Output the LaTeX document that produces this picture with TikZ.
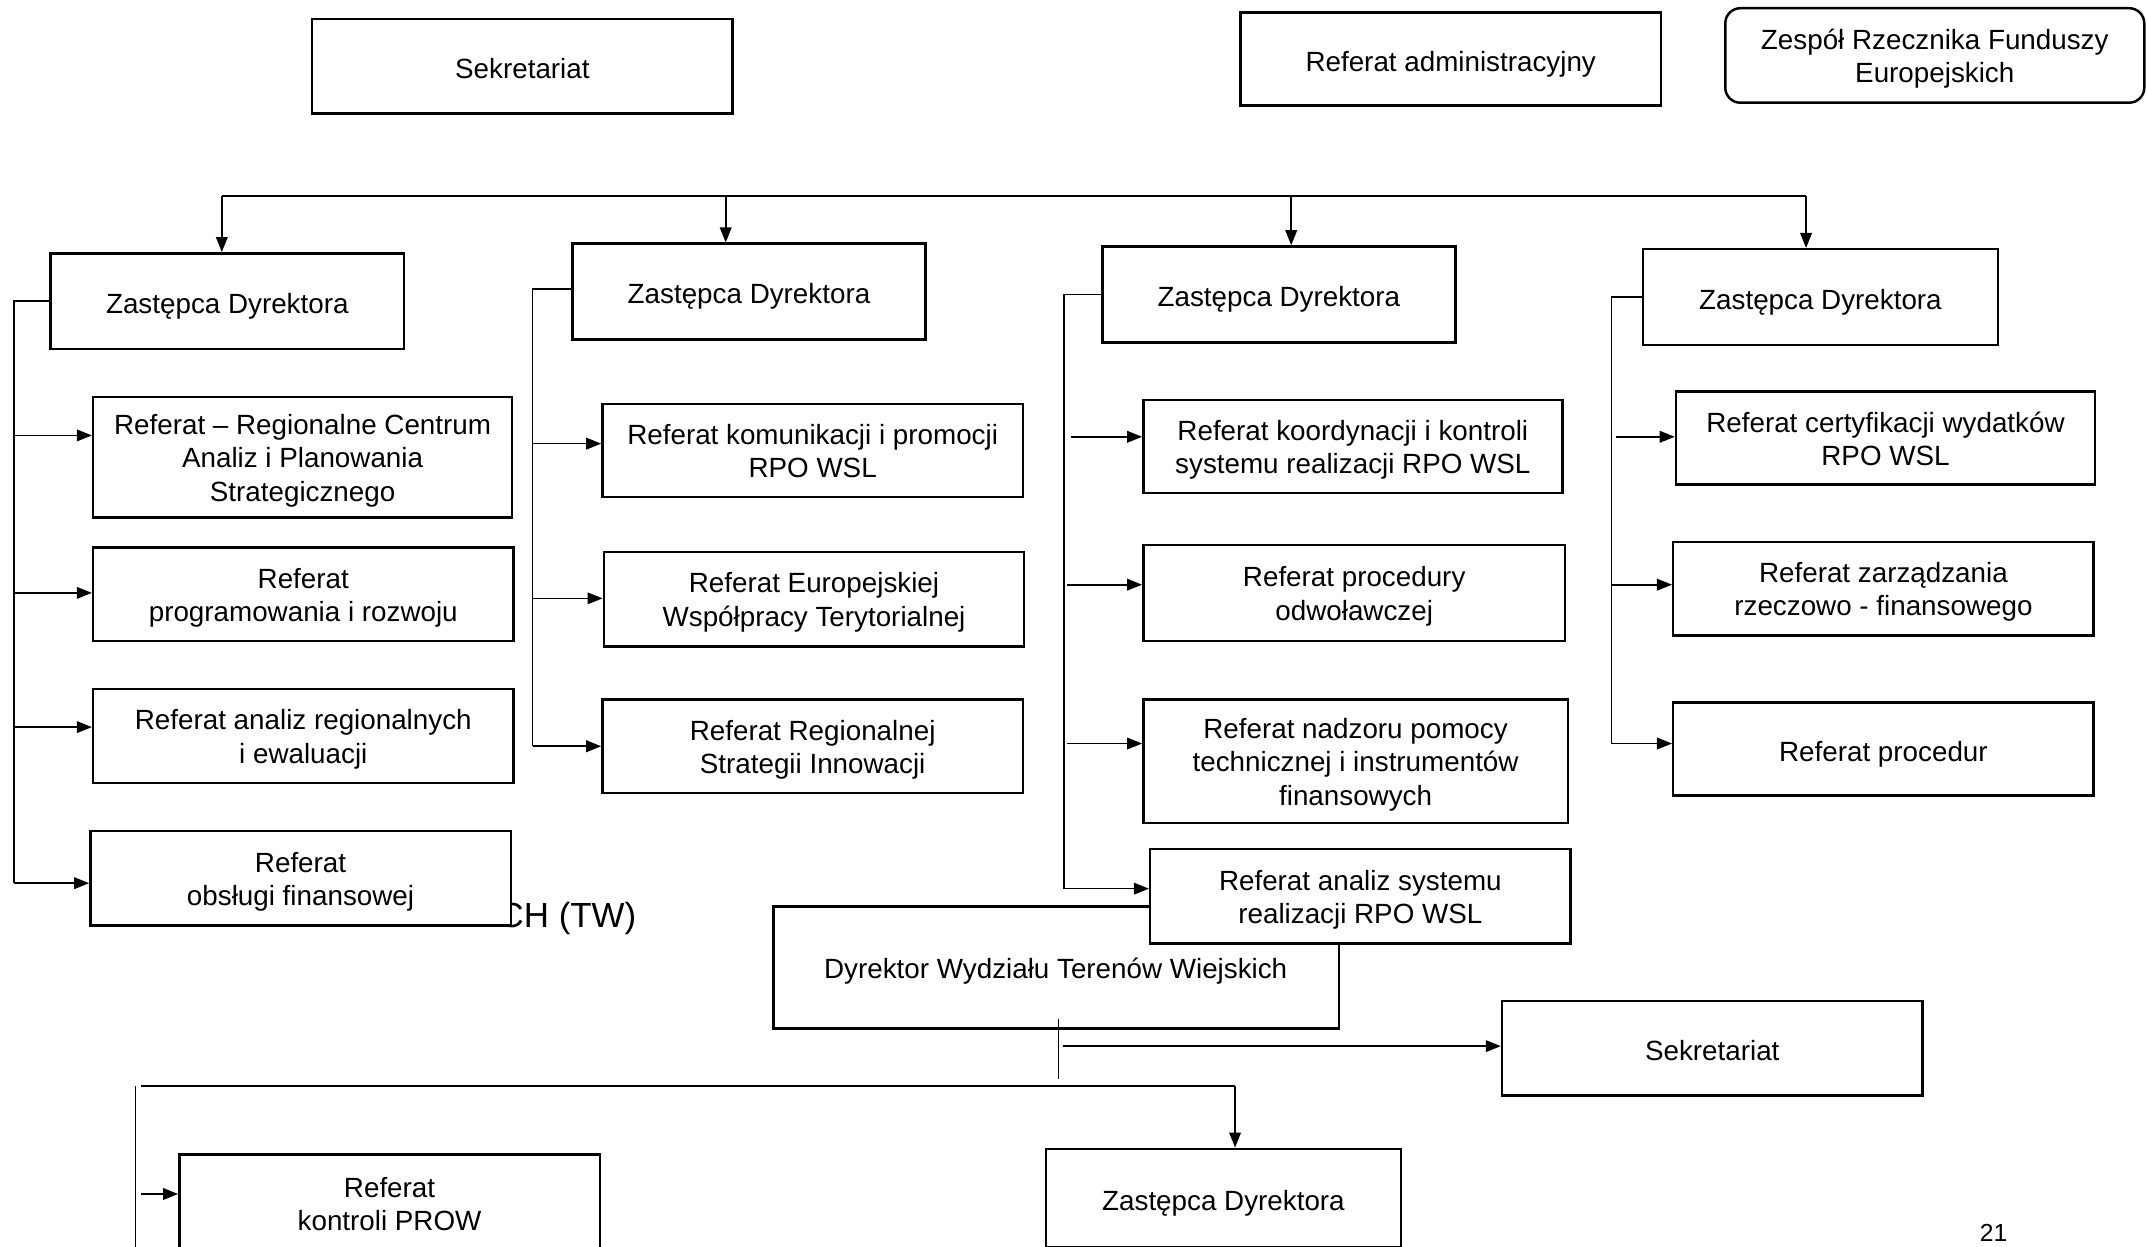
\documentclass[tikz,border=0pt]{standalone}
\usepackage{fontspec}
\setmainfont{Liberation Sans}
\usetikzlibrary{arrows.meta}
\tikzset{
  box/.style={draw, line width=1.8pt, fill=white, inner sep=0pt},
  txt/.style={align=center, inner sep=0pt, font=\fontsize{20.3}{24.3}\selectfont,
    execute at begin node={\strut}, execute at end node={\strut}},
  conn/.style={line width=1.2pt},
  arr/.style={line width=1.2pt, -{Triangle[length=11pt,width=8.5pt]}},
}
\newcommand{\bx}[6]{\node[box, minimum width=#4pt, minimum height=#5pt] (#1) at (#2,#3) {};
  \node[txt] (#1t) at ([yshift=-4pt]#1.center) {#6};}
\begin{document}
\begin{tikzpicture}[x=1pt,y=-1pt]
\useasboundingbox (0,0) rectangle (1568,910);
\clip (0,0) rectangle (1568,910);
\fill[white] (0,0) rectangle (1568,910);

% hidden title fragment
\node[anchor=base west, inner sep=0pt, font=\fontsize{25.5}{30}\selectfont] (tw) at (364,677) {CH (TW)};

% top row
\bx{sekA}{381.5}{48.5}{307}{69}{Sekretariat}
\bx{adm}{1059.5}{43}{307}{68}{Referat administracyjny}
\node[box, rounded corners=11pt, minimum width=306pt, minimum height=69pt] (zesp) at (1413,40.5) {};
\node[txt] (zespt) at ([yshift=-4pt]zesp.center) {Zespół Rzecznika Funduszy\\Europejskich};

% deputies
\bx{z1}{166}{220}{258}{70}{Zastępca Dyrektora}
\bx{z2}{547}{213}{258}{70}{Zastępca Dyrektora}
\bx{z3}{934}{215}{258}{70}{Zastępca Dyrektora}
\bx{z4}{1329.5}{217}{259}{70}{Zastępca Dyrektora}

% bottom director (behind others)
\node[box, minimum width=413pt, minimum height=89pt] (dyr) at (771.5,706.5) {};
\node[txt] (dyrt) at (771,710) {Dyrektor Wydziału Terenów Wiejskich};

% column 1
\bx{r1a}{221}{334}{306}{88}{Referat – Regionalne Centrum\\Analiz i Planowania\\Strategicznego}
\bx{r1b}{221.5}{434}{307}{68}{Referat\\programowania i rozwoju}
\bx{r1c}{221.5}{537.5}{307}{69}{Referat analiz regionalnych\\i ewaluacji}
\bx{r1d}{219.5}{641.5}{307}{69}{Referat\\obsługi finansowej}

% column 2
\bx{r2a}{593.5}{329}{307}{68}{Referat komunikacji i promocji\\RPO WSL}
\bx{r2b}{594.5}{437.5}{307}{69}{Referat Europejskiej\\Współpracy Terytorialnej}
\bx{r2c}{593.5}{545}{307}{68}{Referat Regionalnej\\Strategii Innowacji}

% column 3
\bx{r3a}{988}{326}{306}{68}{Referat koordynacji i kontroli\\systemu realizacji RPO WSL}
\bx{r3b}{989}{433}{308}{70}{Referat procedury\\odwoławczej}
\bx{r3c}{990}{556}{310}{90}{Referat nadzoru pomocy\\technicznej i instrumentów\\finansowych}
\bx{r3d}{993.5}{654.5}{307}{69}{Referat analiz systemu\\realizacji RPO WSL}

% column 4
\bx{r4a}{1377}{320}{306}{68}{Referat certyfikacji wydatków\\RPO WSL}
\bx{r4b}{1375.5}{430}{307}{68}{Referat zarządzania\\rzeczowo - finansowego}
\bx{r4c}{1375.5}{547}{307}{68}{Referat procedur}

% bottom part
\bx{sekB}{1250.5}{765.5}{307}{69}{Sekretariat}
\bx{prow}{284.5}{879}{307}{72}{Referat\\kontroli PROW}
\bx{z5}{893.5}{875}{259}{72}{Zastępca Dyrektora}

\node[anchor=base, inner sep=0pt, font=\fontsize{18}{20}\selectfont] (pg) at (1456,907) {21};

% top bus
\coordinate (b1) at (162,143);
\coordinate (b2) at (530,143);
\coordinate (b3) at (943,143);
\coordinate (b4) at (1319,143);
\draw[conn] (b1) -- (b4);
\draw[arr] (b1) -- (b1 |- z1.north);
\draw[arr] (b2) -- (b2 |- z2.north);
\draw[arr] (b3) -- (b3 |- z3.north);
\draw[arr] (b4) -- (b4 |- z4.north);

% column 1 spine
\coordinate (c1t) at (10,220);
\coordinate (c1a) at (10,318);
\coordinate (c1b) at (10,433);
\coordinate (c1c) at (10,531);
\coordinate (c1d) at (10,645);
\draw[conn] (z1.west) -- (c1t) -- (c1d);
\draw[arr] (c1a) -- (r1a.west |- c1a);
\draw[arr] (c1b) -- (r1b.west |- c1b);
\draw[arr] (c1c) -- (r1c.west |- c1c);
\draw[arr] (c1d) -- (r1d.west |- c1d);

% column 2 spine
\coordinate (c2t) at (389,211);
\coordinate (c2a) at (389,324);
\coordinate (c2b) at (389,437);
\coordinate (c2c) at (389,545);
\draw[conn] (z2.west |- c2t) -- (c2t) -- (c2c);
\draw[arr] (c2a) -- (r2a.west |- c2a);
\draw[arr] (c2b) -- (r2b.west |- c2b);
\draw[arr] (c2c) -- (r2c.west |- c2c);

% column 3 spine
\coordinate (c3t) at (777,215);
\coordinate (c3a) at (782,319);
\coordinate (c3b) at (779,427);
\coordinate (c3c) at (779,543);
\coordinate (c3d) at (777,649);
\draw[conn] (z3.west) -- (c3t) -- (c3d);
\draw[arr] (c3a) -- (r3a.west |- c3a);
\draw[arr] (c3b) -- (r3b.west |- c3b);
\draw[arr] (c3c) -- (r3c.west |- c3c);
\draw[arr] (c3d) -- (r3d.west |- c3d);

% column 4 spine
\coordinate (c4t) at (1177,217);
\coordinate (c4a) at (1180,319);
\coordinate (c4b) at (1177,427);
\coordinate (c4c) at (1177,543);
\draw[conn] (z4.west) -- (c4t) -- (c4c);
\draw[arr] (c4a) -- (r4a.west |- c4a);
\draw[arr] (c4b) -- (r4b.west |- c4b);
\draw[arr] (c4c) -- (r4c.west |- c4c);

% bottom connectors
\coordinate (v1) at (773,744);
\coordinate (v2) at (773,788);
\draw[line width=0.8pt] (v1) -- (v2);
\coordinate (sa) at (776,764);
\draw[arr] (sa) -- (sekB.west |- sa);
\coordinate (l1) at (103,793);
\coordinate (l2) at (902,793);
\draw[conn] (l1) -- (l2);
\draw[arr] (l2) -- (l2 |- z5.north);
\coordinate (lv1) at (99,793);
\coordinate (lv2) at (99,915);
\draw[conn] (lv1) -- (lv2);
\coordinate (pa) at (103,872);
\draw[arr] (pa) -- (prow.west |- pa);
\end{tikzpicture}
\end{document}
